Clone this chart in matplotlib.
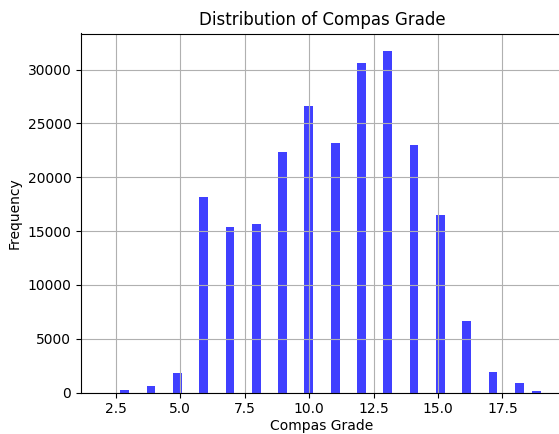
import matplotlib
matplotlib.use("Agg")
import matplotlib.pyplot as plt

grades = [2, 3, 4, 5, 6, 7, 8, 9, 10, 11, 12, 13, 14, 15, 16, 17, 18, 19]
counts = [0, 230, 600, 1830, 18190, 15370, 15680, 22360, 26600, 23160,
          30580, 31760, 23010, 16490, 6620, 1900, 880, 100]

fig = plt.figure(figsize=(5.59, 4.34), dpi=100)
ax = fig.add_axes([81 / 559, 41.5 / 434, 482 / 559, 359 / 434])
ax.hist(grades, bins=50, weights=counts, color='blue', alpha=0.75)
ax.set_title("Distribution of Compas Grade")
ax.set_xlabel("Compas Grade", labelpad=2)
ax.set_ylabel("Frequency")
ax.grid(True)
fig.savefig("out.png", dpi=100)
